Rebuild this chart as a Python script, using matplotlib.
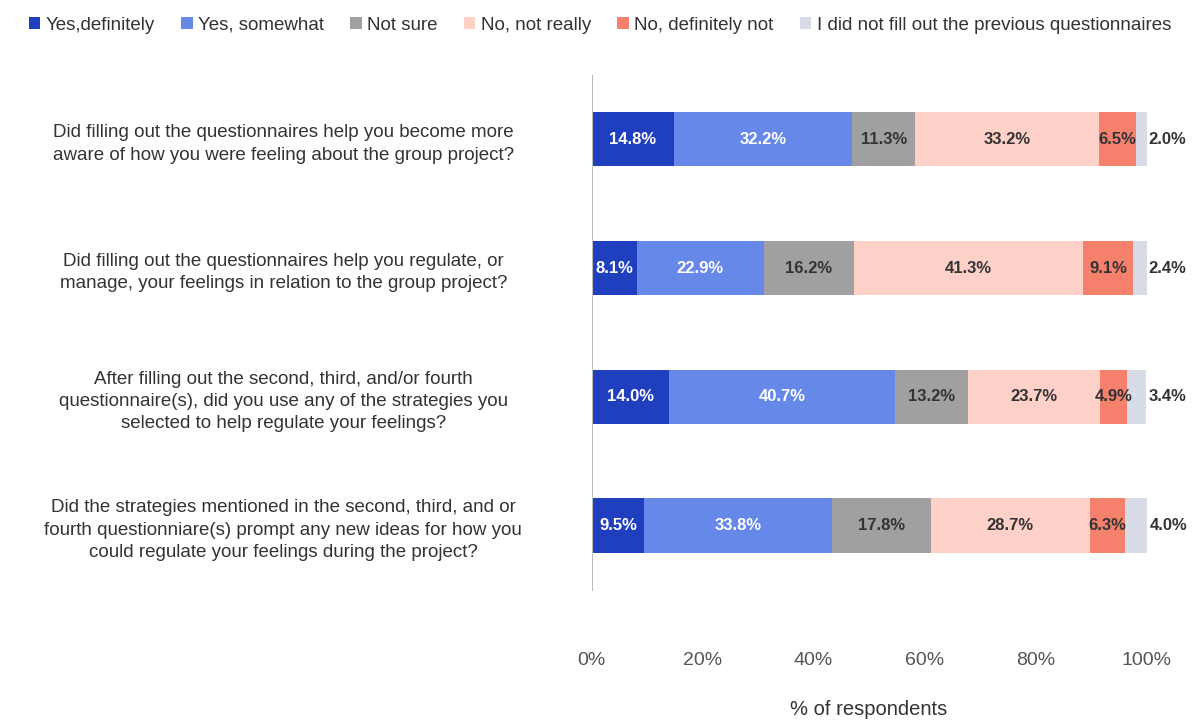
import matplotlib
matplotlib.use("Agg")
import matplotlib.pyplot as plt
import numpy as np

questions = [
    "Did filling out the questionnaires help you become more\naware of how you were feeling about the group project?",
    "Did filling out the questionnaires help you regulate, or\nmanage, your feelings in relation to the group project?",
    "After filling out the second, third, and/or fourth\nquestionnaire(s), did you use any of the strategies you\nselected to help regulate your feelings?",
    "Did the strategies mentioned in the second, third, and or\nfourth questionniare(s) prompt any new ideas for how you\ncould regulate your feelings during the project?",
]
series = ["Yes,definitely", "Yes, somewhat", "Not sure", "No, not really",
          "No, definitely not", "I did not fill out the previous questionnaires"]
values = [
    [14.8, 8.1, 14.0, 9.5],
    [32.2, 22.9, 40.7, 33.8],
    [11.3, 16.2, 13.2, 17.8],
    [33.2, 41.3, 23.7, 28.7],
    [6.5, 9.1, 4.9, 6.3],
    [2.0, 2.4, 3.4, 4.0],
]
colors = ["#1f3fbf", "#6688e8", "#a0a0a0", "#fdd0c8", "#f5806c", "#d8dce6"]
txtcol = ["white", "white", "#333333", "#333333", "#333333", "#333333"]

plt.rcParams['font.family'] = ['Liberation Sans', 'DejaVu Sans']
fig = plt.figure(figsize=(12, 7.22), dpi=100)
ax = fig.add_axes([0.493, 0.183, 0.4625, 0.713])
y = np.arange(len(questions))
left = np.zeros(len(questions))
for i, (s, v) in enumerate(zip(series, values)):
    v = np.array(v)
    ax.barh(y, v, left=left, height=0.42, color=colors[i], label=s)
    for j in range(len(v)):
        if i == len(series) - 1:
            ax.text(left[j] + v[j] + 0.4, y[j], f"{v[j]:.1f}%", va="center", ha="left",
                    fontsize=12, fontweight="bold", color="#333333")
        else:
            ax.text(left[j] + v[j] / 2, y[j], f"{v[j]:.1f}%", va="center", ha="center",
                    fontsize=12, fontweight="bold", color=txtcol[i])
    left += v
ax.set_ylim(3.5, -0.5)
ax.set_xlim(0, 100)
ax.set_yticks(y)
ax.set_yticklabels(questions, fontsize=13.5, color="#333333", ha="center", linespacing=1.4)
ax.tick_params(axis="y", length=0, pad=222)
ax.set_xticks(np.arange(0, 101, 20))
ax.set_xticklabels([f"{t}%" for t in range(0, 101, 20)], fontsize=14, color="#555555")
ax.tick_params(axis="x", length=0, pad=45)
ax.set_xlabel("% of respondents", fontsize=14.5, color="#333333", labelpad=22)
for sp in ["top", "right", "bottom"]:
    ax.spines[sp].set_visible(False)
ax.spines["left"].set_color("#bbbbbb")
fig.legend(loc="upper center", bbox_to_anchor=(0.5, 1.0), ncol=6, frameon=False,
           fontsize=13.5, handlelength=0.6, handleheight=0.6, columnspacing=1.4,
           handletextpad=0.3, labelcolor="#333333")
fig.savefig("out.png")
